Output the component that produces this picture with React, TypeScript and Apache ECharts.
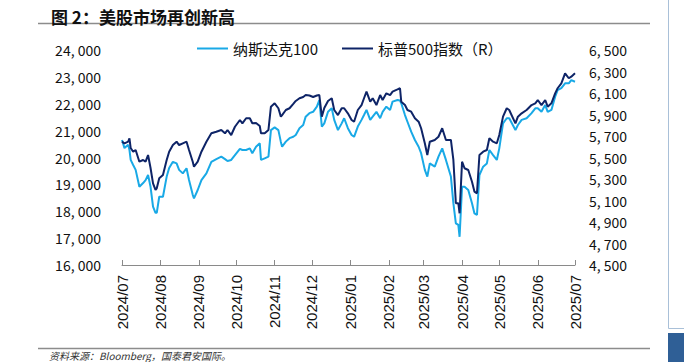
import React, { useEffect, useRef } from "react";
import * as echarts from "echarts";

const titleText = "图 2：美股市场再创新高";
const sourceText = "资料来源：Bloomberg，国泰君安国际。";
const seriesNames = ["纳斯达克100", "标普500指数（R）"];
const xTickLabels = ["2024/07", "2024/08", "2024/09", "2024/10", "2024/11", "2024/12", "2025/01", "2025/02", "2025/03", "2025/04", "2025/05", "2025/06", "2025/07"];
const leftTicks = [16000, 17000, 18000, 19000, 20000, 21000, 22000, 23000, 24000];
const rightTicks = [4500, 4700, 4900, 5100, 5300, 5500, 5700, 5900, 6100, 6300, 6500];

const dates = [
  "2024-07-01", "2024-07-03", "2024-07-06", "2024-07-07", "2024-07-08", "2024-07-10", "2024-07-12", "2024-07-15", "2024-07-18", "2024-07-20",
  "2024-07-22", "2024-07-24", "2024-07-26", "2024-07-28", "2024-07-29", "2024-07-31", "2024-08-03", "2024-08-06", "2024-08-08", "2024-08-11",
  "2024-08-14", "2024-08-16", "2024-08-19", "2024-08-22", "2024-08-24", "2024-08-27", "2024-08-28", "2024-08-31", "2024-09-03", "2024-09-07",
  "2024-09-11", "2024-09-15", "2024-09-19", "2024-09-22", "2024-09-24", "2024-09-27", "2024-09-30", "2024-10-04", "2024-10-06", "2024-10-09",
  "2024-10-12", "2024-10-14", "2024-10-17", "2024-10-20", "2024-10-21", "2024-10-24", "2024-10-27", "2024-10-29", "2024-11-01", "2024-11-04",
  "2024-11-06", "2024-11-07", "2024-11-10", "2024-11-13", "2024-11-16", "2024-11-18", "2024-11-21", "2024-11-24", "2024-11-26", "2024-11-29",
  "2024-12-02", "2024-12-05", "2024-12-07", "2024-12-09", "2024-12-11", "2024-12-14", "2024-12-17", "2024-12-19", "2024-12-22", "2024-12-25",
  "2024-12-27", "2024-12-30", "2025-01-02", "2025-01-04", "2025-01-07", "2025-01-10", "2025-01-12", "2025-01-14", "2025-01-17", "2025-01-19",
  "2025-01-22", "2025-01-25", "2025-01-27", "2025-01-30", "2025-02-02", "2025-02-04", "2025-02-08", "2025-02-10", "2025-02-11", "2025-02-14",
  "2025-02-16", "2025-02-19", "2025-02-22", "2025-02-25", "2025-02-27", "2025-03-02", "2025-03-04", "2025-03-06", "2025-03-10", "2025-03-13",
  "2025-03-16", "2025-03-19", "2025-03-23", "2025-03-25", "2025-03-27", "2025-03-29", "2025-03-30", "2025-04-01", "2025-04-03", "2025-04-06",
  "2025-04-09", "2025-04-11", "2025-04-13", "2025-04-15", "2025-04-18", "2025-04-21", "2025-04-23", "2025-04-26", "2025-04-29", "2025-05-01",
  "2025-05-04", "2025-05-07", "2025-05-09", "2025-05-14", "2025-05-16", "2025-05-19", "2025-05-23", "2025-05-27", "2025-05-30", "2025-06-01",
  "2025-06-04", "2025-06-07", "2025-06-09", "2025-06-12", "2025-06-15", "2025-06-17", "2025-06-20", "2025-06-23", "2025-06-26", "2025-06-28",
  "2025-07-01",
];

const nasdaq100 = [
  20650, 20350, 20470, 20280, 19910, 19720, 19540, 18910, 19050, 19160,
  19350, 18910, 18170, 17940, 17940, 18540, 18540, 19290, 19610, 19840,
  19780, 19540, 19410, 19600, 19160, 18610, 18480, 18790, 19160, 19410,
  19840, 19940, 20030, 19940, 19870, 19910, 20090, 20320, 20280, 20280,
  20340, 20160, 20400, 20530, 19910, 19970, 20030, 21020, 21120, 21020,
  20580, 20400, 20590, 20720, 20770, 20840, 21090, 21210, 21520, 21650,
  21700, 21890, 22140, 21150, 21270, 21700, 21830, 21400, 21020, 21270,
  21460, 21090, 20840, 20770, 21150, 21400, 21580, 21770, 21400, 21520,
  21700, 21460, 21700, 21890, 21770, 22080, 22140, 22120, 22020, 21580,
  21330, 20960, 20650, 20400, 20160, 19540, 19290, 19780, 19660, 20030,
  20340, 19910, 19290, 18300, 17550, 17490, 17050, 18910, 18910, 18790,
  18300, 17920, 17860, 19350, 19660, 19780, 20280, 20090, 19910, 20340,
  21270, 21460, 21460, 21020, 21210, 21400, 21460, 21650, 21830, 21830,
  21700, 21950, 21700, 21770, 22260, 22510, 22580, 22760, 22760, 22880,
  22820,
];

const sp500 = [
  5647, 5632, 5647, 5679, 5588, 5554, 5570, 5461, 5477, 5461,
  5523, 5402, 5260, 5198, 5213, 5306, 5337, 5477, 5554, 5616,
  5647, 5616, 5632, 5647, 5570, 5461, 5414, 5461, 5554, 5647,
  5725, 5740, 5756, 5725, 5756, 5709, 5786, 5849, 5818, 5865,
  5865, 5818, 5821, 5793, 5725, 5725, 5756, 5973, 6004, 5958,
  5880, 5895, 5942, 5958, 5998, 6026, 6051, 6063, 6081, 6077,
  6063, 6077, 6081, 5880, 5960, 6026, 6051, 5942, 5895, 5958,
  5958, 5911, 5849, 5833, 5942, 5988, 6051, 6112, 6019, 6051,
  5988, 6081, 6035, 6097, 6081, 6112, 6133, 6144, 6019, 5988,
  5942, 5926, 5865, 5833, 5772, 5632, 5523, 5647, 5663, 5693,
  5772, 5663, 5663, 5477, 5074, 5074, 4981, 5461, 5400, 5384,
  5275, 5182, 5167, 5523, 5554, 5570, 5679, 5647, 5632, 5709,
  5880, 5958, 5942, 5818, 5880, 5911, 5942, 5988, 6004, 6035,
  5988, 6035, 5973, 6004, 6097, 6144, 6190, 6283, 6237, 6252,
  6283,
];

const NASDAQ_COLOR = "#19A9E6";
const SPX_COLOR = "#0E2467";
const CJK = '"Noto Sans CJK SC", "Noto Sans", sans-serif';

function parseDay(s: string): number {
  const [y, m, d] = s.split("-").map(Number);
  return new Date(y, m - 1, d).getTime();
}
function labelToTime(l: string): number {
  const [y, m] = l.split("/").map(Number);
  return new Date(y, m - 1, 1).getTime();
}
function fmt(v: number): string {
  return String(Math.round(v)).replace(/\B(?=(\d{3})+(?!\d))/g, ", ");
}

export default function App() {
  const ref = useRef<HTMLDivElement>(null);
  useEffect(() => {
    if (!ref.current) return;
    const chart = echarts.init(ref.current, undefined, { renderer: "svg" });
    const tickTimes = xTickLabels.map(labelToTime);
    const times = dates.map(parseDay);
    const option: any = {
      animation: false,
      backgroundColor: "#ffffff",
      title: {
        text: titleText,
        left: 46,
        top: 3,
        textStyle: { fontSize: 17, fontWeight: "bold", color: "#111", fontFamily: CJK },
      },
      legend: {
        left: 192,
        top: 36,
        icon: "rect",
        itemWidth: 31,
        itemHeight: 2,
        itemGap: 24,
        textStyle: { fontSize: 15, color: "#111", fontFamily: CJK },
        data: seriesNames,
      },
      grid: { left: 122, right: 109, top: 50, bottom: 97, containLabel: false },
      xAxis: {
        type: "value",
        min: tickTimes[0],
        max: tickTimes[tickTimes.length - 1],
        axisLine: { show: true, lineStyle: { color: "#8a8a8a", width: 1 } },
        axisTick: { show: true, inside: true, length: 5, customValues: tickTimes, lineStyle: { color: "#8a8a8a" } },
        axisLabel: {
          customValues: tickTimes,
          rotate: 90,
          margin: 10,
          fontSize: 15,
          color: "#111",
          fontFamily: '"Liberation Sans", Arial, sans-serif',
          formatter: (v: number) => {
            let best = 0;
            tickTimes.forEach((t, i) => {
              if (Math.abs(t - v) < Math.abs(tickTimes[best] - v)) best = i;
            });
            return xTickLabels[best];
          },
        },
        splitLine: { show: false },
      },
      yAxis: [
        {
          type: "value",
          position: "left",
          min: leftTicks[0],
          max: leftTicks[leftTicks.length - 1],
          interval: 1000,
          axisLine: { show: false },
          axisTick: { show: false },
          splitLine: { show: false },
          axisLabel: { margin: 21, fontSize: 14, color: "#111", fontFamily: CJK, formatter: fmt },
        },
        {
          type: "value",
          position: "right",
          min: rightTicks[0],
          max: rightTicks[rightTicks.length - 1],
          axisLine: { show: false },
          axisTick: { show: false },
          splitLine: { show: false },
          axisLabel: { customValues: rightTicks, margin: 14, fontSize: 14, color: "#111", fontFamily: CJK, formatter: fmt },
        },
      ],
      series: [
        {
          name: seriesNames[0],
          type: "line",
          yAxisIndex: 0,
          symbol: "none",
          showSymbol: false,
          lineStyle: { width: 2, color: NASDAQ_COLOR },
          itemStyle: { color: NASDAQ_COLOR },
          data: times.map((t, i) => [t, nasdaq100[i]]),
        },
        {
          name: seriesNames[1],
          type: "line",
          yAxisIndex: 1,
          symbol: "none",
          showSymbol: false,
          lineStyle: { width: 2, color: SPX_COLOR },
          itemStyle: { color: SPX_COLOR },
          data: times.map((t, i) => [t, sp500[i]]),
        },
      ],
      graphic: [
        { type: "line", shape: { x1: 38, y1: 23.5, x2: 650, y2: 23.5 }, style: { stroke: "#8c8c8c", lineWidth: 1.5 } },
        { type: "line", shape: { x1: 38, y1: 348.5, x2: 650, y2: 348.5 }, style: { stroke: "#8c8c8c", lineWidth: 1.5 } },
        {
          type: "text",
          x: 49,
          y: 350,
          style: { text: sourceText, fontSize: 10, lineHeight: 11, fontStyle: "italic", fill: "#333", fontFamily: CJK },
        },
        { type: "polyline", shape: { points: [[668.5, 0], [668.5, 328.5], [684, 328.5]] }, style: { stroke: "#a9c0d8", lineWidth: 1, fill: "none" } },
        { type: "rect", shape: { x: 668, y: 333, width: 16, height: 29 }, style: { fill: "#2f5f96" } },
      ],
    };
    chart.setOption(option);
    return () => chart.dispose();
  }, []);
  return <div ref={ref} style={{ position: "fixed", left: 0, top: 0, width: 684, height: 362 }} />;
}
